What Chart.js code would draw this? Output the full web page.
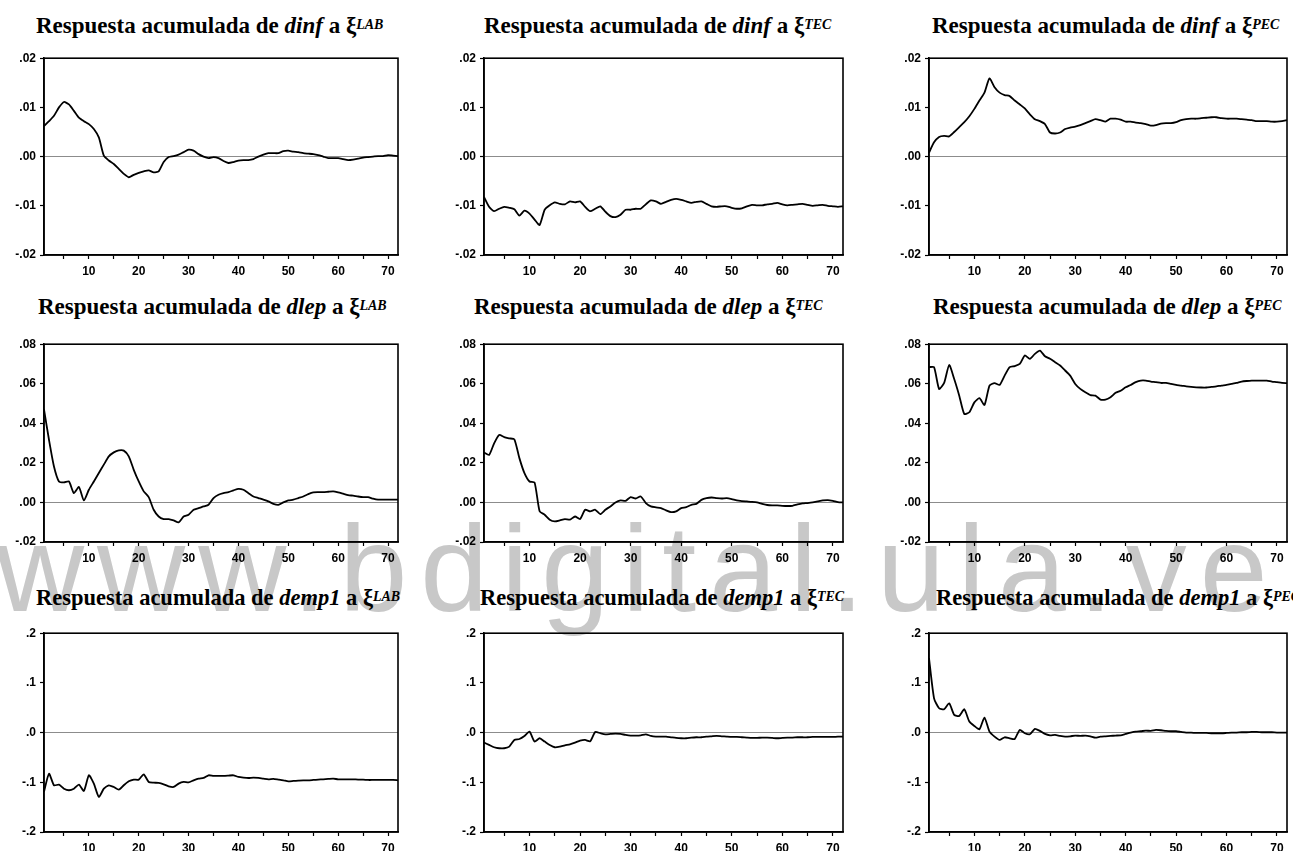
<!DOCTYPE html>
<html>
<head>
<meta charset="utf-8">
<script src="https://cdn.jsdelivr.net/npm/chart.js@4.4.1/dist/chart.umd.min.js"></script>
<style>
  html, body { margin:0; padding:0; background:#fff; }
  body { width:1293px; height:851px; position:relative; overflow:hidden; }
  .wm { position:absolute; left:-4px; top:508px; font-family:"Liberation Sans", Arial, sans-serif; font-size:122px; color:#c8c8c8; white-space:nowrap; letter-spacing:13px; z-index:0; line-height:122px; }
  .ttl { position:absolute; font-family:"Liberation Serif","DejaVu Serif",serif; font-weight:bold; font-size:23px; line-height:23px; color:#000; white-space:nowrap; z-index:2; }
  .ttl i { font-style:italic; }
  .ttl sup { font-size:14px; font-style:italic; position:relative; top:-1px; vertical-align:top; }
  .box { position:absolute; z-index:1; }
</style>
</head>
<body>
<div class="wm">www.bdigital.ula.ve</div>
<script>
// ---- data ----
const periods = [1,2,3,4,5,6,7,8,9,10,11,12,13,14,15,16,17,18,19,20,21,22,23,24,25,26,27,28,29,30,31,32,33,34,35,36,37,38,39,40,41,42,43,44,45,46,47,48,49,50,51,52,53,54,55,56,57,58,59,60,61,62,63,64,65,66,67,68,69,70,71,72];
const xTickValues = [5,10,15,20,25,30,35,40,45,50,55,60,65,70];
const xLabeledTicks = [10,20,30,40,50,60,70];

const yTicksDinf = [-0.02,-0.01,0,0.01,0.02];
const yLabelsDinf = ['-.02','-.01','.00','.01','.02'];
const yTicksDlep = [-0.02,0,0.02,0.04,0.06,0.08];
const yLabelsDlep = ['-.02','.00','.02','.04','.06','.08'];
const yTicksDemp = [-0.2,-0.1,0,0.1,0.2];
const yLabelsDemp = ['-.2','-.1','.0','.1','.2'];

const variables = ['dinf','dlep','demp1'];
const shocks = ['LAB','TEC','PEC'];

const dinfLAB = [0.0062,0.0072,0.0083,0.0100,0.0111,0.0106,0.0093,0.0079,0.0072,0.0066,0.0056,0.0039,0.0002,-0.0008,-0.0015,-0.0025,-0.0035,-0.0042,-0.0037,-0.0033,-0.0030,-0.0028,-0.0032,-0.0030,-0.0011,-0.0001,0.0001,0.0004,0.0009,0.0014,0.0012,0.0005,0.0000,-0.0003,-0.0001,-0.0003,-0.0009,-0.0013,-0.0011,-0.0008,-0.0007,-0.0007,-0.0005,0.0000,0.0004,0.0007,0.0007,0.0007,0.0011,0.0012,0.0010,0.0009,0.0007,0.0006,0.0005,0.0003,0.0000,-0.0003,-0.0003,-0.0003,-0.0005,-0.0007,-0.0006,-0.0004,-0.0002,-0.0001,0.0000,0.0001,0.0001,0.0003,0.0002,0.0001];
const dinfTEC = [-0.0082,-0.0102,-0.0111,-0.0106,-0.0102,-0.0104,-0.0107,-0.0120,-0.0110,-0.0116,-0.0128,-0.0139,-0.0108,-0.0099,-0.0093,-0.0096,-0.0097,-0.0091,-0.0093,-0.0091,-0.0102,-0.0111,-0.0106,-0.0101,-0.0112,-0.0121,-0.0123,-0.0118,-0.0108,-0.0108,-0.0106,-0.0106,-0.0097,-0.0089,-0.0091,-0.0096,-0.0092,-0.0088,-0.0086,-0.0088,-0.0091,-0.0094,-0.0092,-0.0091,-0.0096,-0.0101,-0.0102,-0.0101,-0.0101,-0.0104,-0.0106,-0.0105,-0.0101,-0.0098,-0.0099,-0.0099,-0.0097,-0.0096,-0.0094,-0.0097,-0.0099,-0.0098,-0.0097,-0.0096,-0.0098,-0.0100,-0.0099,-0.0098,-0.0100,-0.0101,-0.0102,-0.0101];
const dinfPEC = [0.0008,0.0029,0.0040,0.0042,0.0041,0.0050,0.0060,0.0070,0.0082,0.0097,0.0114,0.0130,0.0159,0.0141,0.0130,0.0125,0.0123,0.0114,0.0106,0.0098,0.0086,0.0076,0.0072,0.0066,0.0049,0.0047,0.0049,0.0056,0.0059,0.0061,0.0064,0.0068,0.0072,0.0076,0.0074,0.0071,0.0077,0.0077,0.0075,0.0071,0.0071,0.0069,0.0068,0.0066,0.0063,0.0064,0.0067,0.0068,0.0068,0.0070,0.0074,0.0076,0.0077,0.0077,0.0078,0.0079,0.0080,0.0080,0.0078,0.0077,0.0077,0.0077,0.0076,0.0075,0.0074,0.0072,0.0072,0.0072,0.0071,0.0071,0.0072,0.0074];

const dlepLAB = [0.0470,0.0317,0.0182,0.0106,0.0101,0.0106,0.0047,0.0078,0.0010,0.0064,0.0106,0.0149,0.0191,0.0233,0.0253,0.0263,0.0262,0.0233,0.0165,0.0106,0.0056,0.0027,-0.0037,-0.0071,-0.0084,-0.0084,-0.0091,-0.0101,-0.0071,-0.0062,-0.0037,-0.0029,-0.0020,-0.0012,0.0022,0.0039,0.0047,0.0052,0.0061,0.0069,0.0064,0.0047,0.0030,0.0022,0.0014,0.0005,-0.0007,-0.0012,0.0000,0.0010,0.0014,0.0022,0.0030,0.0042,0.0051,0.0052,0.0052,0.0054,0.0056,0.0051,0.0044,0.0037,0.0034,0.0030,0.0027,0.0027,0.0019,0.0014,0.0014,0.0014,0.0014,0.0014];
const dlepTEC = [0.0252,0.0240,0.0299,0.0341,0.0330,0.0324,0.0319,0.0224,0.0148,0.0106,0.0101,-0.0045,-0.0062,-0.0087,-0.0096,-0.0091,-0.0084,-0.0087,-0.0071,-0.0084,-0.0037,-0.0045,-0.0037,-0.0059,-0.0037,-0.0020,0.0000,0.0010,0.0008,0.0027,0.0020,0.0030,-0.0003,-0.0020,-0.0025,-0.0029,-0.0040,-0.0049,-0.0045,-0.0029,-0.0024,-0.0012,-0.0007,0.0013,0.0022,0.0025,0.0022,0.0020,0.0022,0.0017,0.0010,0.0007,0.0005,0.0003,0.0000,-0.0007,-0.0013,-0.0015,-0.0015,-0.0017,-0.0018,-0.0017,-0.0010,-0.0005,-0.0003,0.0000,0.0005,0.0010,0.0012,0.0008,0.0002,0.0000];
const dlepPEC = [0.0684,0.0684,0.0574,0.0604,0.0695,0.0624,0.0540,0.0447,0.0456,0.0506,0.0527,0.0493,0.0591,0.0603,0.0594,0.0641,0.0684,0.0689,0.0700,0.0743,0.0726,0.0751,0.0768,0.0739,0.0726,0.0709,0.0692,0.0667,0.0641,0.0599,0.0574,0.0557,0.0543,0.0540,0.0520,0.0520,0.0532,0.0554,0.0565,0.0582,0.0594,0.0608,0.0616,0.0616,0.0611,0.0608,0.0604,0.0604,0.0599,0.0594,0.0591,0.0587,0.0584,0.0582,0.0581,0.0581,0.0584,0.0587,0.0591,0.0594,0.0599,0.0604,0.0611,0.0614,0.0616,0.0616,0.0616,0.0616,0.0611,0.0608,0.0604,0.0603];

const demp1LAB = [-0.119,-0.0826,-0.106,-0.1047,-0.1128,-0.116,-0.1128,-0.1047,-0.1174,-0.0859,-0.1027,-0.1295,-0.1128,-0.106,-0.1094,-0.1148,-0.106,-0.098,-0.0946,-0.0946,-0.0839,-0.0993,-0.1007,-0.1013,-0.104,-0.1081,-0.1094,-0.1027,-0.0993,-0.100,-0.096,-0.0926,-0.0913,-0.0859,-0.0872,-0.0872,-0.0872,-0.0866,-0.0859,-0.0893,-0.0906,-0.0913,-0.0906,-0.0913,-0.0926,-0.094,-0.0933,-0.0946,-0.096,-0.098,-0.0973,-0.0966,-0.096,-0.096,-0.0953,-0.0946,-0.094,-0.0933,-0.0926,-0.094,-0.094,-0.094,-0.094,-0.0946,-0.0946,-0.0953,-0.0953,-0.0953,-0.0953,-0.0953,-0.0953,-0.096];
const demp1TEC = [-0.0201,-0.0248,-0.0295,-0.0315,-0.0315,-0.0282,-0.0148,-0.0128,-0.0067,0.0020,-0.0181,-0.0114,-0.0181,-0.0248,-0.0295,-0.0282,-0.0255,-0.0235,-0.0201,-0.0161,-0.0148,-0.0174,0.0013,-0.0013,-0.0034,-0.0027,-0.0020,-0.0027,-0.0047,-0.0060,-0.0060,-0.0054,-0.0034,-0.0067,-0.0081,-0.0081,-0.0081,-0.0094,-0.0107,-0.0114,-0.0114,-0.0101,-0.0094,-0.0094,-0.0081,-0.0074,-0.0067,-0.0074,-0.0081,-0.0087,-0.0087,-0.0094,-0.0101,-0.0107,-0.0107,-0.0101,-0.0101,-0.0107,-0.0114,-0.0107,-0.0101,-0.0101,-0.0094,-0.0094,-0.0094,-0.0087,-0.0087,-0.0087,-0.0087,-0.0087,-0.0081,-0.0081];
const demp1PEC = [0.150,0.069,0.049,0.047,0.059,0.0356,0.0336,0.047,0.0222,0.0134,0.0067,0.0302,0.0020,-0.0081,-0.0148,-0.0094,-0.0114,-0.0128,0.0054,-0.0013,-0.0034,0.0074,0.0034,-0.0027,-0.0054,-0.0047,-0.0067,-0.0081,-0.0074,-0.0060,-0.0067,-0.0060,-0.0074,-0.0101,-0.0081,-0.0074,-0.0067,-0.0060,-0.0054,-0.0027,0.0000,0.0020,0.0027,0.0040,0.0034,0.0054,0.0047,0.0034,0.0027,0.0027,0.0013,0.0000,0.0000,-0.0007,-0.0007,-0.0007,-0.0013,-0.0013,-0.0013,-0.0007,0.0000,0.0000,0.0007,0.0007,0.0013,0.0013,0.0007,0.0007,0.0007,0.0000,0.0000,0.0000];

// ---- layout (plot-area boxes) ----
const rowTop = [57, 343, 632];
const rowBottom = [255, 542, 832];
const colLeft = [44, 484, 929];
const colRight = [398, 843, 1287];
const titleLeft = [[36,484,932],[38,474,933],[36,480,936]];
const titleBaseline = [33, 314, 606];
const titleSize = [23, 23, 22.5];

const panels = [
  {v:0, s:0, data:dinfLAB, ticks:yTicksDinf, labels:yLabelsDinf},
  {v:0, s:1, data:dinfTEC, ticks:yTicksDinf, labels:yLabelsDinf},
  {v:0, s:2, data:dinfPEC, ticks:yTicksDinf, labels:yLabelsDinf},
  {v:1, s:0, data:dlepLAB, ticks:yTicksDlep, labels:yLabelsDlep},
  {v:1, s:1, data:dlepTEC, ticks:yTicksDlep, labels:yLabelsDlep},
  {v:1, s:2, data:dlepPEC, ticks:yTicksDlep, labels:yLabelsDlep},
  {v:2, s:0, data:demp1LAB, ticks:yTicksDemp, labels:yLabelsDemp},
  {v:2, s:1, data:demp1TEC, ticks:yTicksDemp, labels:yLabelsDemp},
  {v:2, s:2, data:demp1PEC, ticks:yTicksDemp, labels:yLabelsDemp}
];

const Y_W = 44, PAD_T = 10, PAD_R = 6, X_H = 30;

const frame = {
  id:'frame',
  afterDatasetsDraw(chart){
    const a = chart.chartArea, c = chart.ctx;
    c.save(); c.strokeStyle = '#000'; c.lineWidth = 1.6;
    c.strokeRect(a.left, a.top, a.right - a.left, a.bottom - a.top);
    c.restore();
  }
};

const tickFont = {family:'"Liberation Sans", Arial, sans-serif', weight:'bold', size:12};

panels.forEach((p, idx) => {
  const r = Math.floor(idx / 3), col = idx % 3;
  const L = colLeft[col], R = colRight[col], T = rowTop[r], B = rowBottom[r];

  const t = document.createElement('div');
  t.className = 'ttl';
  t.style.fontSize = titleSize[r] + 'px';
  t.style.lineHeight = titleSize[r] + 'px';
  t.style.left = titleLeft[r][col] + 'px';
  t.style.top = (titleBaseline[r] - 19) + 'px';
  t.innerHTML = 'Respuesta acumulada de <i>' + variables[p.v] + '</i> a \u03BE<sup>' + shocks[p.s] + '</sup>';
  document.body.appendChild(t);

  const box = document.createElement('div');
  box.className = 'box';
  const W = (R - L) + Y_W + PAD_R, H = (B - T) + PAD_T + X_H;
  box.style.left = (L - Y_W) + 'px';
  box.style.top = (T - PAD_T) + 'px';
  box.style.width = W + 'px';
  box.style.height = H + 'px';
  const cv = document.createElement('canvas');
  box.appendChild(cv);
  document.body.appendChild(box);

  new Chart(cv, {
    type:'line',
    data:{ labels: periods, datasets:[{ data:p.data, borderColor:'#000', borderWidth:1.8, pointRadius:0, tension:0.2, fill:false }] },
    options:{
      responsive:true, maintainAspectRatio:false, animation:false,
      layout:{ padding:{ top:PAD_T, right:PAD_R, left:0, bottom:0 } },
      plugins:{ legend:{display:false}, tooltip:{enabled:false}, title:{display:false} },
      scales:{
        x:{
          type:'linear', min:1, max:72,
          afterBuildTicks(s){ s.ticks = xTickValues.map(v => ({value:v})); },
          afterFit(s){ s.height = X_H; },
          ticks:{ autoSkip:false, maxRotation:0, padding:5, color:'#000', font:tickFont,
                  callback:(v) => xLabeledTicks.includes(v) ? String(v) : '' },
          grid:{ drawOnChartArea:false, drawTicks:true, tickLength:4, tickColor:'#000', tickWidth:1.2 },
          border:{ display:true, color:'#000', width:1.6 }
        },
        y:{
          type:'linear', min:p.ticks[0], max:p.ticks[p.ticks.length-1],
          afterBuildTicks(s){ s.ticks = p.ticks.map(v => ({value:v})); },
          afterFit(s){ s.width = Y_W; },
          ticks:{ autoSkip:false, padding:4, color:'#000', font:tickFont,
                  callback:(v) => { const i = p.ticks.findIndex(q => Math.abs(q - v) < 1e-9); return i >= 0 ? p.labels[i] : ''; } },
          grid:{ drawOnChartArea:true, drawTicks:true, tickLength:4, tickColor:'#000', tickWidth:1.2,
                 color:(c) => (c.tick && Math.abs(c.tick.value) < 1e-12) ? '#8c8c8c' : 'rgba(0,0,0,0)', lineWidth:1 },
          border:{ display:true, color:'#000', width:1.6 }
        }
      }
    },
    plugins:[frame]
  });
});
</script>
</body>
</html>
